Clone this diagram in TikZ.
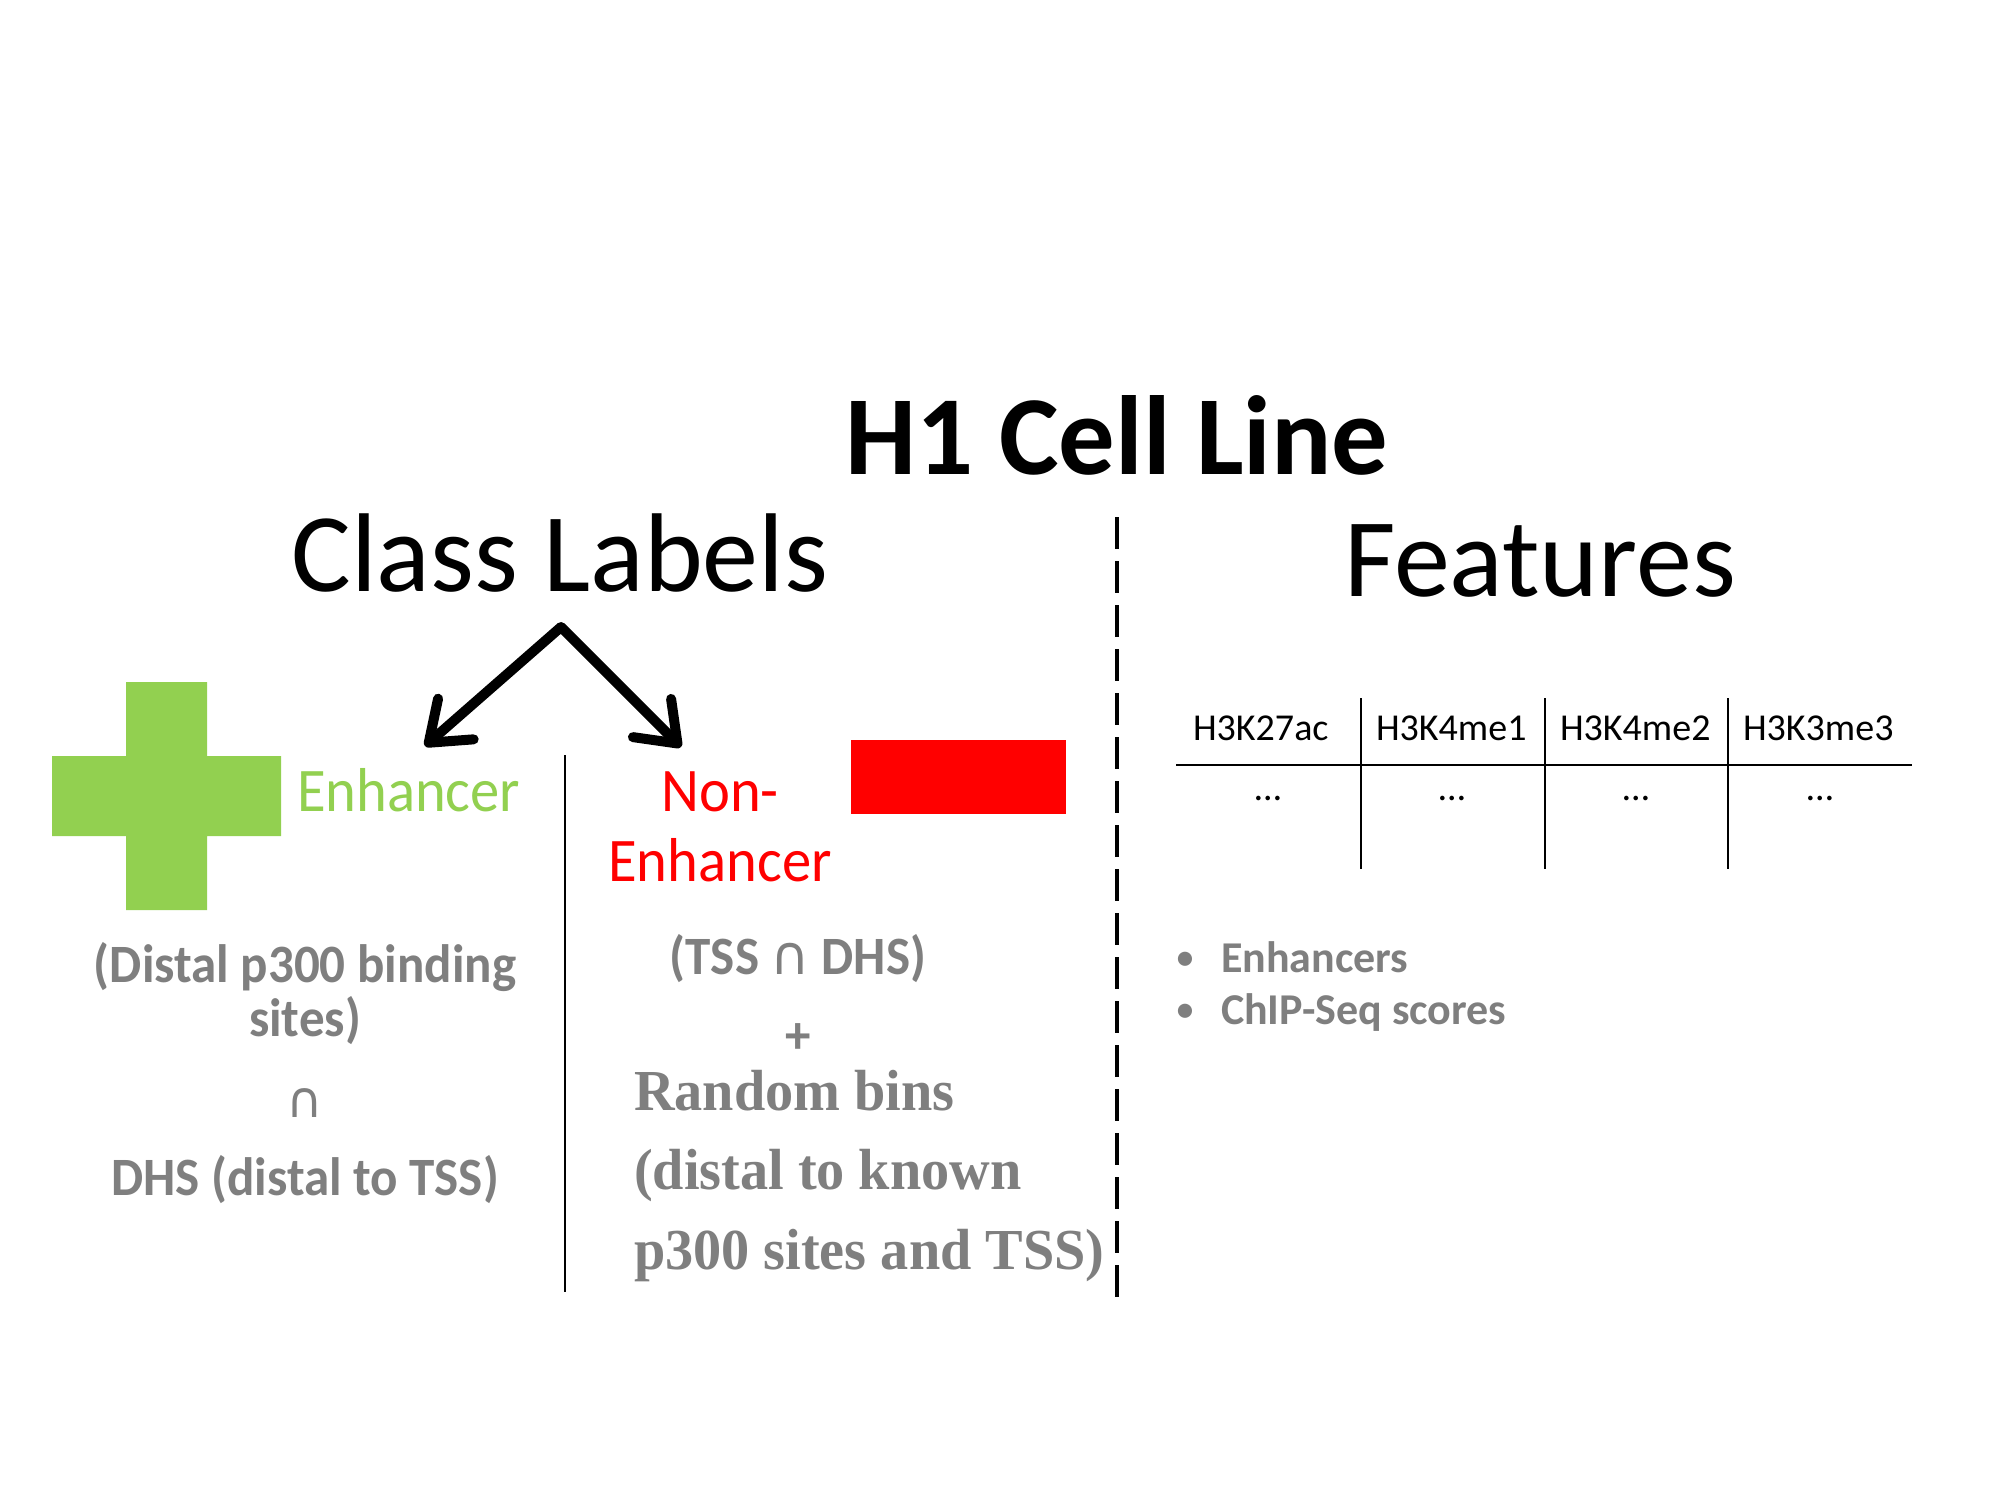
\documentclass[tikz,border=0pt]{standalone}
\usepackage{fontspec}
\setmainfont{Carlito}
\newfontfamily\narrowface[FakeStretch=0.945]{Carlito}
\newfontfamily\bookface[FakeStretch=0.97]{Liberation Serif}
\newfontfamily\symface{DejaVu Sans}
\usetikzlibrary{arrows.meta}

\definecolor{leafgreen}{HTML}{92D050}
\definecolor{signalred}{HTML}{FF0000}
\definecolor{softgray}{HTML}{7F7F7F}

\newcommand{\fs}[1]{\fontsize{#1}{#1}\selectfont}

\begin{document}
\begin{tikzpicture}[x=0.5pt,y=-0.5pt,
  txt/.style={inner sep=0pt, outer sep=0pt, anchor=base},
  bigtitle/.style={txt, font=\bfseries\fs{56.3}},
  heading/.style={txt, font=\fs{56}},
  classname/.style={txt, font=\narrowface\fs{31}},
  note/.style={txt, font=\narrowface\bfseries\fs{27}, text=softgray},
  serifnote/.style={txt, anchor=base west, font=\bookface\bfseries\fs{29}, text=softgray},
  colhead/.style={txt, anchor=base west, font=\fs{19}},
  cell/.style={txt, font=\fs{19}},
  bullet/.style={txt, anchor=base west, font=\bfseries\fs{22}, text=softgray},
  barb/.tip={Straight Barb[length=18pt,width=27pt,line cap=round,line join=round]},
  split/.style={line width=5pt, line cap=round, line join=round, barb-barb},
  grid/.style={line width=1pt, black}
]
% canvas
\useasboundingbox[fill=white] (0,0) rectangle (2000,1500);

% titles
\node[bigtitle] (title) at (1117,474) {H1 Cell Line};
\node[heading] (classes) at (560,591) {Class Labels};
\node[heading] (features) at (1540,596) {Features};

% separators
\draw[line width=2.2pt, dash pattern=on 16pt off 6pt] (1117,517) coordinate (dashtop) -- (1117,1300) coordinate (dashbot);
\draw[line width=0.8pt] (565,755) coordinate (divtop) -- (565,1292) coordinate (divbot);

% branching arrows
\coordinate (apex) at (561,627);
\coordinate (lefttip) at (425,746);
\coordinate (righttip) at (681,747);
\draw[split] (lefttip) -- (apex) -- (righttip);

% positive class marker
\fill[leafgreen] (126,682) -- (207,682) -- (207,756) -- (281,756) -- (281,836)
  -- (207,836) -- (207,910) -- (126,910) -- (126,836) -- (52,836) -- (52,756)
  -- (126,756) -- cycle;
\node[classname, anchor=base west, text=leafgreen] (enh) at (297,811) {Enhancer};

% negative class marker
\fill[signalred] (851,740) rectangle (1066,814);
\node[classname, text=signalred] (non1) at (720,811) {Non-};
\node[classname, text=signalred] (non2) at (720,881) {Enhancer};

% positive class definition
\node[note] (p1) at (305,982) {(Distal p300 binding};
\node[note] (p2) at (305,1036) {sites)};
\node[txt, font=\symface\fs{25}, text=softgray] (p3) at (305,1117) {∩};
\node[note] (p4) at (305,1195) {DHS (distal to TSS)};

% negative class definition
\node[note] (n1) at (798,974) {(TSS {\symface\mdseries ∩} DHS)};
\node[note] (n2) at (798,1053) {+};
\node[serifnote] (n3) at (634,1110) {Random bins};
\node[serifnote] (n4) at (634,1189) {(distal to known};
\node[serifnote] (n5) at (634,1269) {p300 sites and TSS)};

% feature table
\draw[grid] (1176,765) coordinate (hl) -- (1912,765) coordinate (hr);
\foreach \x/\nm in {1361/va,1545/vb,1728/vc}
  \draw[grid] (\x,698) coordinate (\nm t) -- (\x,869) coordinate (\nm b);
\node[colhead] (h1) at (1193,740) {H3K27ac};
\node[colhead] (h2) at (1376,740) {H3K4me1};
\node[colhead] (h3) at (1560,740) {H3K4me2};
\node[colhead] (h4) at (1743,740) {H3K3me3};
\node[cell] (d1) at (1268,800) {…};
\node[cell] (d2) at (1452,800) {…};
\node[cell] (d3) at (1636,800) {…};
\node[cell] (d4) at (1820,800) {…};

% feature list
\node[bullet, font=\mdseries\fs{20}] (b1) at (1175,970) {•};
\node[bullet] (f1) at (1221,972) {Enhancers};
\node[bullet, font=\mdseries\fs{20}] (b2) at (1175,1022) {•};
\node[bullet] (f2) at (1221,1024) {ChIP-Seq scores};
\end{tikzpicture}
\end{document}
